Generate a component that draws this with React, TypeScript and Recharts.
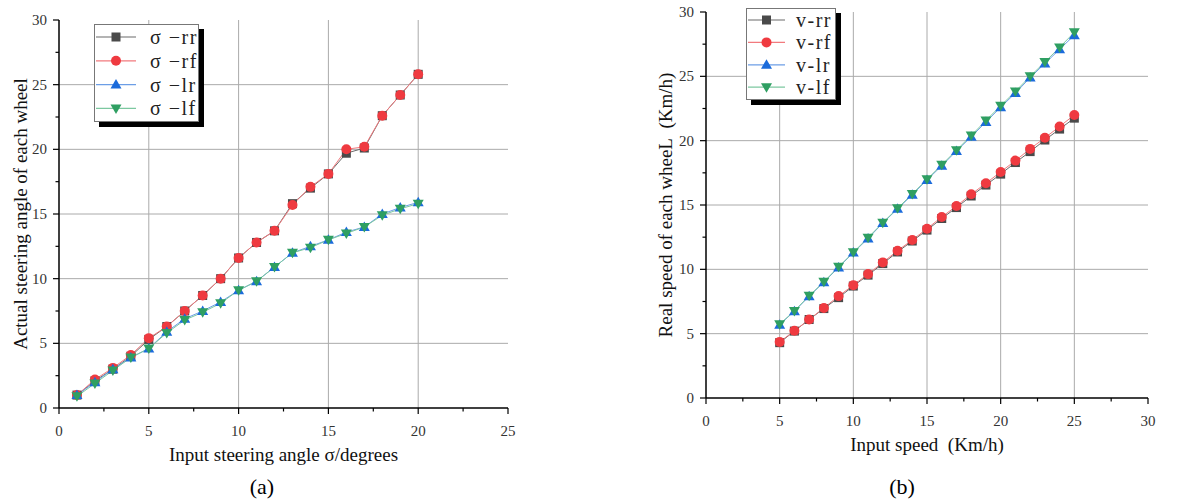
import { CartesianGrid, Label, Line, LineChart, XAxis, YAxis } from "recharts";

const FONT = '"Times New Roman", "Liberation Serif", serif';

// (a) steering angle
const angleInput = [1, 2, 3, 4, 5, 6, 7, 8, 9, 10, 11, 12, 13, 14, 15, 16, 17, 18, 19, 20];
const angleRR = [1.0, 2.1, 3.0, 4.0, 5.3, 6.3, 7.5, 8.7, 10.0, 11.6, 12.8, 13.7, 15.8, 17.0, 18.1, 19.7, 20.1, 22.6, 24.2, 25.8];
const angleRF = [1.0, 2.2, 3.1, 4.1, 5.4, 6.3, 7.5, 8.7, 10.0, 11.6, 12.8, 13.7, 15.7, 17.1, 18.1, 20.0, 20.2, 22.6, 24.2, 25.8];
const angleLR = [1.0, 2.0, 3.0, 3.9, 4.6, 5.9, 6.9, 7.5, 8.2, 9.1, 9.8, 10.9, 12.0, 12.5, 13.0, 13.6, 14.0, 15.0, 15.5, 15.9];
const angleLF = [0.9, 1.9, 2.9, 3.9, 4.6, 5.8, 6.8, 7.4, 8.1, 9.1, 9.8, 10.9, 12.0, 12.4, 13.0, 13.5, 14.0, 14.9, 15.4, 15.8];
const angleNames = ["σ −rr", "σ −rf", "σ −lr", "σ −lf"];
const angleXTicks = [0, 2.5, 5, 7.5, 10, 12.5, 15, 17.5, 20, 22.5, 25];
const angleYTicks = [0, 2.5, 5, 7.5, 10, 12.5, 15, 17.5, 20, 22.5, 25, 27.5, 30];

// (b) wheel speed
const speedInput = [5, 6, 7, 8, 9, 10, 11, 12, 13, 14, 15, 16, 17, 18, 19, 20, 21, 22, 23, 24, 25];
const speedRR = [4.3, 5.2, 6.1, 6.95, 7.8, 8.7, 9.55, 10.45, 11.35, 12.2, 13.05, 13.95, 14.8, 15.7, 16.55, 17.4, 18.3, 19.15, 20.05, 20.9, 21.75];
const speedRF = [4.36, 5.22, 6.1, 7.0, 7.92, 8.77, 9.63, 10.54, 11.45, 12.28, 13.16, 14.07, 14.92, 15.83, 16.69, 17.57, 18.45, 19.36, 20.22, 21.1, 22.0];
const speedLR = [5.7, 6.75, 7.9, 9.0, 10.15, 11.3, 12.4, 13.6, 14.7, 15.8, 16.95, 18.05, 19.2, 20.3, 21.45, 22.6, 23.7, 24.9, 26.0, 27.1, 28.2];
const speedLF = [5.74, 6.77, 7.94, 9.03, 10.2, 11.32, 12.46, 13.63, 14.74, 15.86, 17.0, 18.12, 19.26, 20.4, 21.57, 22.71, 23.83, 25.0, 26.11, 27.25, 28.42];
const speedNames = ["v-rr", "v-rf", "v-lr", "v-lf"];
const speedXTicks = [0, 2.5, 5, 7.5, 10, 12.5, 15, 17.5, 20, 22.5, 25, 27.5, 30];
const speedYTicks = [0, 2.5, 5, 7.5, 10, 12.5, 15, 17.5, 20, 22.5, 25, 27.5, 30];

const angleData = angleInput.map((x, i) => ({ x, rr: angleRR[i], rf: angleRF[i], lr: angleLR[i], lf: angleLF[i] }));
const speedData = speedInput.map((x, i) => ({ x, rr: speedRR[i], rf: speedRF[i], lr: speedLR[i], lf: speedLF[i] }));

const series = [
  { key: "rr", shape: "square", fill: "#4a4a4a", line: "#6a6a6a" },
  { key: "rf", shape: "circle", fill: "#ef3a40", line: "#f27a7e" },
  { key: "lr", shape: "up", fill: "#1b6bdb", line: "#6c9ee6" },
  { key: "lf", shape: "down", fill: "#2f9f62", line: "#7cc8a0" },
];

const Marker = ({ cx, cy, shape, fill }: any) => {
  if (cx == null || cy == null) return null;
  if (shape === "square") return <rect x={cx - 4.5} y={cy - 4.5} width={9} height={9} fill={fill} />;
  if (shape === "circle") return <circle cx={cx} cy={cy} r={5} fill={fill} />;
  if (shape === "up")
    return <polygon points={`${cx},${cy - 5.5} ${cx + 5.5},${cy + 4} ${cx - 5.5},${cy + 4}`} fill={fill} />;
  return <polygon points={`${cx},${cy + 5.5} ${cx + 5.5},${cy - 4} ${cx - 5.5},${cy - 4}`} fill={fill} />;
};

const XTick = ({ x, y, payload }: any) => {
  const major = payload.value % 5 === 0;
  return (
    <g>
      <line x1={x} x2={x} y1={y} y2={y + (major ? 6 : 3.5)} stroke="#000" strokeWidth={1.2} />
      {major && (
        <text x={x} y={y + 28} textAnchor="middle" fontSize={15} fill="#333" fontFamily={FONT}>
          {payload.value}
        </text>
      )}
    </g>
  );
};

const YTick = ({ x, y, payload }: any) => {
  const major = payload.value % 5 === 0;
  return (
    <g>
      <line x1={x} x2={x - (major ? 6 : 3.5)} y1={y} y2={y} stroke="#000" strokeWidth={1.2} />
      {major && (
        <text x={x - 12} y={y + 5} textAnchor="end" fontSize={15} fill="#333" fontFamily={FONT}>
          {payload.value}
        </text>
      )}
    </g>
  );
};

const LegendBox = ({ names, left, top, width, height, rowTop, rowStep, lineW, textX }: any) => (
  <svg
    width={width + 8}
    height={height + 8}
    style={{ position: "absolute", left, top }}
  >
    <rect x={5} y={5} width={width} height={height} fill="#000" />
    <rect x={0.5} y={0.5} width={width - 1} height={height - 1} fill="#fff" stroke="#777" />
    {series.map((s, i) => {
      const cy = rowTop + i * rowStep;
      return (
        <g key={s.key}>
          <line x1={2} x2={2 + lineW} y1={cy} y2={cy} stroke={s.line} strokeWidth={1.2} />
          <Marker cx={2 + lineW / 2} cy={cy} shape={s.shape} fill={s.fill} />
          <text x={textX} y={cy + 7} fontSize={20} letterSpacing={1.5} fill="#222" fontFamily={FONT}>
            {names[i]}
          </text>
        </g>
      );
    })}
  </svg>
);

const Panel = ({ data, xDomain, xTicks, yTicks, vGrid, width, margin, yWidth, xLabel, yLabel, yLabelOffset }: any) => (
  <LineChart width={width} height={499} data={data} margin={margin}>
    <CartesianGrid
      stroke="#aaaaaa"
      strokeWidth={1}
      verticalValues={vGrid}
      horizontalValues={[5, 10, 15, 20, 25]}
    />
    <XAxis
      dataKey="x"
      type="number"
      domain={xDomain}
      ticks={xTicks}
      interval={0}
      height={30}
      tickSize={0}
      tickMargin={0}
      tickLine={false}
      axisLine={{ stroke: "#000", strokeWidth: 1.5 }}
      tick={<XTick />}
    >
      <Label value={xLabel} position="bottom" offset={10} fontSize={19} fill="#111" fontFamily={FONT} />
    </XAxis>
    <YAxis
      type="number"
      domain={[0, 30]}
      ticks={yTicks}
      interval={0}
      width={yWidth}
      tickSize={0}
      tickMargin={0}
      tickLine={false}
      axisLine={{ stroke: "#000", strokeWidth: 1.5 }}
      tick={<YTick />}
    >
      <Label
        value={yLabel}
        angle={-90}
        position="insideLeft"
        offset={yLabelOffset}
        fontSize={19}
        fill="#111"
        fontFamily={FONT}
        style={{ textAnchor: "middle" }}
      />
    </YAxis>
    {series.map((s) => (
      <Line
        key={s.key}
        type="linear"
        dataKey={s.key}
        stroke={s.line}
        strokeWidth={1}
        isAnimationActive={false}
        activeDot={false}
        dot={(p: any) => <Marker key={`${s.key}-${p.index}`} cx={p.cx} cy={p.cy} shape={s.shape} fill={s.fill} />}
      />
    ))}
  </LineChart>
);

export default function App() {
  return (
    <div
      style={{
        position: "absolute",
        left: 0,
        top: 0,
        width: 1203,
        height: 499,
        background: "#fff",
        fontFamily: FONT,
        overflow: "hidden",
      }}
    >
      <div style={{ position: "absolute", left: 0, top: 0 }}>
        <Panel
          data={angleData}
          xDomain={[0, 25]}
          xTicks={angleXTicks}
          yTicks={angleYTicks}
          vGrid={[5, 10, 15, 20]}
          width={560}
          margin={{ top: 20, right: 52, bottom: 61, left: 0 }}
          yWidth={59}
          xLabel="Input steering angle σ/degrees"
          yLabel="Actual steering angle of each wheel"
          yLabelOffset={20}
        />
      </div>
      <div style={{ position: "absolute", left: 640, top: 0 }}>
        <Panel
          data={speedData}
          xDomain={[0, 30]}
          xTicks={speedXTicks}
          yTicks={speedYTicks}
          vGrid={[5, 10, 15, 20, 25]}
          width={563}
          margin={{ top: 12, right: 55, bottom: 71, left: 0 }}
          yWidth={66}
          xLabel={"Input speed\u00a0 (Km/h)"}
          yLabel={"Real speed of each wheeL\u00a0 (Km/h)"}
          yLabelOffset={25}
        />
      </div>
      <LegendBox
        names={angleNames}
        left={94}
        top={24}
        width={105}
        height={98}
        rowTop={13}
        rowStep={23.8}
        lineW={40}
        textX={56}
      />
      <LegendBox
        names={speedNames}
        left={746}
        top={8}
        width={90}
        height={92}
        rowTop={12}
        rowStep={22.4}
        lineW={37}
        textX={50}
      />
      <div style={{ position: "absolute", left: 242, top: 473, width: 40, textAlign: "center", fontSize: 22, lineHeight: "28px" }}>
        (a)
      </div>
      <div style={{ position: "absolute", left: 882, top: 473, width: 40, textAlign: "center", fontSize: 22, lineHeight: "28px" }}>
        (b)
      </div>
    </div>
  );
}
